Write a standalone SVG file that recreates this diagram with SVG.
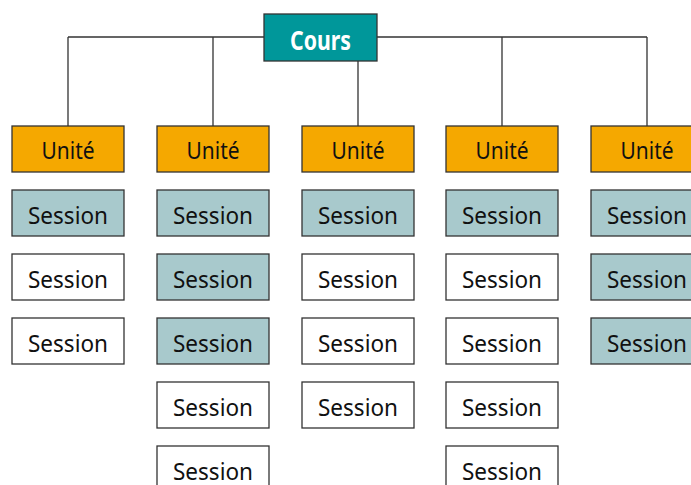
<svg xmlns="http://www.w3.org/2000/svg" width="691" height="485" viewBox="0 0 691 485">
  <style>
    .box { stroke: #333333; stroke-width: 1.3; }
    .cours { fill: #00979A; }
    .unit { fill: #F5A800; }
    .done { fill: #A8C9CC; }
    .todo { fill: #FFFFFF; }
    .lbl { font-family: "Noto Sans", "Open Sans", sans-serif; font-size: 24px; fill: #111111; text-anchor: middle; }
    .top { font-family: "Noto Sans", "Open Sans", sans-serif; font-size: 26px; font-weight: bold; fill: #FFFFFF; text-anchor: middle; }
    .wire { stroke: #333333; stroke-width: 1.3; fill: none; }
  </style>
  <rect width="691" height="485" fill="#FFFFFF"/>

  <g id="connectors">
    <path class="wire" d="M68,37 H647 M68,37 V126 M213,37 V126 M358,37 V126 M502,37 V126 M647,37 V126"/>
  </g>

  <g id="cours">
    <rect class="box cours" x="264" y="14" width="113" height="47"/>
    <text class="top" x="320.5" y="50" textLength="61" lengthAdjust="spacingAndGlyphs">Cours</text>
  </g>

  <!-- column 1 -->
  <g id="unit1"><rect class="box unit" x="12" y="126" width="112" height="46"/><text class="lbl" x="68" y="159" textLength="53" lengthAdjust="spacingAndGlyphs">Unité</text></g>
  <g id="s1-1"><rect class="box done" x="12" y="190" width="112" height="46"/><text class="lbl" x="68" y="223.5" textLength="80" lengthAdjust="spacingAndGlyphs">Session</text></g>
  <g id="s1-2"><rect class="box todo" x="12" y="254" width="112" height="46"/><text class="lbl" x="68" y="287.5" textLength="80" lengthAdjust="spacingAndGlyphs">Session</text></g>
  <g id="s1-3"><rect class="box todo" x="12" y="318" width="112" height="46"/><text class="lbl" x="68" y="351.5" textLength="80" lengthAdjust="spacingAndGlyphs">Session</text></g>

  <!-- column 2 -->
  <g id="unit2"><rect class="box unit" x="157" y="126" width="112" height="46"/><text class="lbl" x="213" y="159" textLength="53" lengthAdjust="spacingAndGlyphs">Unité</text></g>
  <g id="s2-1"><rect class="box done" x="157" y="190" width="112" height="46"/><text class="lbl" x="213" y="223.5" textLength="80" lengthAdjust="spacingAndGlyphs">Session</text></g>
  <g id="s2-2"><rect class="box done" x="157" y="254" width="112" height="46"/><text class="lbl" x="213" y="287.5" textLength="80" lengthAdjust="spacingAndGlyphs">Session</text></g>
  <g id="s2-3"><rect class="box done" x="157" y="318" width="112" height="46"/><text class="lbl" x="213" y="351.5" textLength="80" lengthAdjust="spacingAndGlyphs">Session</text></g>
  <g id="s2-4"><rect class="box todo" x="157" y="382" width="112" height="46"/><text class="lbl" x="213" y="415.5" textLength="80" lengthAdjust="spacingAndGlyphs">Session</text></g>
  <g id="s2-5"><rect class="box todo" x="157" y="446" width="112" height="46"/><text class="lbl" x="213" y="479.5" textLength="80" lengthAdjust="spacingAndGlyphs">Session</text></g>

  <!-- column 3 -->
  <g id="unit3"><rect class="box unit" x="302" y="126" width="112" height="46"/><text class="lbl" x="358" y="159" textLength="53" lengthAdjust="spacingAndGlyphs">Unité</text></g>
  <g id="s3-1"><rect class="box done" x="302" y="190" width="112" height="46"/><text class="lbl" x="358" y="223.5" textLength="80" lengthAdjust="spacingAndGlyphs">Session</text></g>
  <g id="s3-2"><rect class="box todo" x="302" y="254" width="112" height="46"/><text class="lbl" x="358" y="287.5" textLength="80" lengthAdjust="spacingAndGlyphs">Session</text></g>
  <g id="s3-3"><rect class="box todo" x="302" y="318" width="112" height="46"/><text class="lbl" x="358" y="351.5" textLength="80" lengthAdjust="spacingAndGlyphs">Session</text></g>
  <g id="s3-4"><rect class="box todo" x="302" y="382" width="112" height="46"/><text class="lbl" x="358" y="415.5" textLength="80" lengthAdjust="spacingAndGlyphs">Session</text></g>

  <!-- column 4 -->
  <g id="unit4"><rect class="box unit" x="446" y="126" width="112" height="46"/><text class="lbl" x="502" y="159" textLength="53" lengthAdjust="spacingAndGlyphs">Unité</text></g>
  <g id="s4-1"><rect class="box done" x="446" y="190" width="112" height="46"/><text class="lbl" x="502" y="223.5" textLength="80" lengthAdjust="spacingAndGlyphs">Session</text></g>
  <g id="s4-2"><rect class="box todo" x="446" y="254" width="112" height="46"/><text class="lbl" x="502" y="287.5" textLength="80" lengthAdjust="spacingAndGlyphs">Session</text></g>
  <g id="s4-3"><rect class="box todo" x="446" y="318" width="112" height="46"/><text class="lbl" x="502" y="351.5" textLength="80" lengthAdjust="spacingAndGlyphs">Session</text></g>
  <g id="s4-4"><rect class="box todo" x="446" y="382" width="112" height="46"/><text class="lbl" x="502" y="415.5" textLength="80" lengthAdjust="spacingAndGlyphs">Session</text></g>
  <g id="s4-5"><rect class="box todo" x="446" y="446" width="112" height="46"/><text class="lbl" x="502" y="479.5" textLength="80" lengthAdjust="spacingAndGlyphs">Session</text></g>

  <!-- column 5 -->
  <g id="unit5"><rect class="box unit" x="591" y="126" width="112" height="46"/><text class="lbl" x="647" y="159" textLength="53" lengthAdjust="spacingAndGlyphs">Unité</text></g>
  <g id="s5-1"><rect class="box done" x="591" y="190" width="112" height="46"/><text class="lbl" x="647" y="223.5" textLength="80" lengthAdjust="spacingAndGlyphs">Session</text></g>
  <g id="s5-2"><rect class="box done" x="591" y="254" width="112" height="46"/><text class="lbl" x="647" y="287.5" textLength="80" lengthAdjust="spacingAndGlyphs">Session</text></g>
  <g id="s5-3"><rect class="box done" x="591" y="318" width="112" height="46"/><text class="lbl" x="647" y="351.5" textLength="80" lengthAdjust="spacingAndGlyphs">Session</text></g>
</svg>
